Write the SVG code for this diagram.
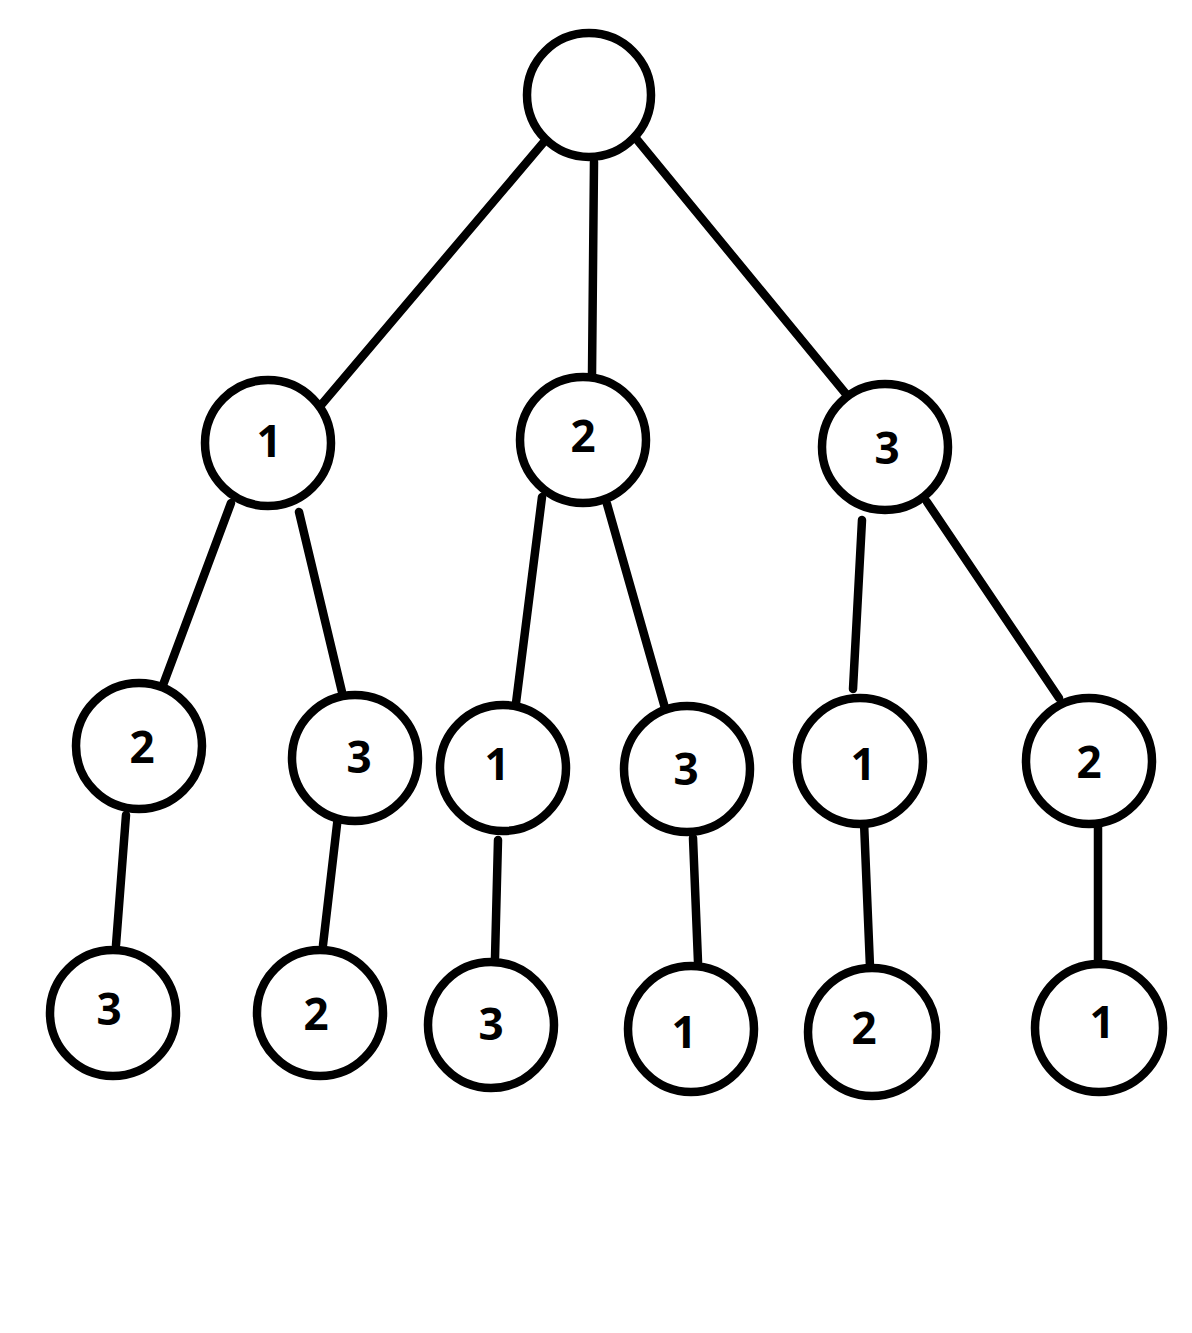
<svg xmlns="http://www.w3.org/2000/svg" width="1192" height="1333" viewBox="0 0 1192 1333">
<style>
.n{fill:#fff;stroke:#000;stroke-width:8.5}
.e{stroke:#000;stroke-width:8.5;stroke-linecap:round;fill:none}
.t{font-family:"Open Sans","Noto Sans",sans-serif;font-weight:bold;font-size:44px;text-anchor:middle;dominant-baseline:central;fill:#000}
</style>
<rect width="1192" height="1333" fill="#fff"/>
<g id="connectors">
<line class="e" x1="543" y1="143" x2="322" y2="404"/>
<line class="e" x1="594" y1="162" x2="592" y2="375"/>
<line class="e" x1="634" y1="136" x2="846" y2="394"/>
<line class="e" x1="231" y1="503" x2="163" y2="685"/>
<line class="e" x1="299" y1="512" x2="342" y2="692"/>
<line class="e" x1="542" y1="497" x2="516" y2="703"/>
<line class="e" x1="607" y1="504" x2="665" y2="708"/>
<line class="e" x1="862" y1="520" x2="853" y2="689"/>
<line class="e" x1="927" y1="502" x2="1059" y2="698"/>
<line class="e" x1="126" y1="815" x2="116" y2="945"/>
<line class="e" x1="338" y1="816" x2="323" y2="945"/>
<line class="e" x1="498" y1="840" x2="495" y2="958"/>
<line class="e" x1="693" y1="838" x2="698" y2="962"/>
<line class="e" x1="864" y1="822" x2="870" y2="967"/>
<line class="e" x1="1098" y1="826" x2="1098" y2="962"/>
</g>
<g id="root"><circle class="n" cx="589" cy="95" r="62"/></g>
<g id="n1"><circle class="n" cx="268" cy="443" r="63"/><text class="t" x="269" y="440">1</text></g>
<g id="n2"><circle class="n" cx="583" cy="440" r="63"/><text class="t" x="583" y="435">2</text></g>
<g id="n3"><circle class="n" cx="885" cy="447" r="63"/><text class="t" x="887" y="447">3</text></g>
<g id="n12"><circle class="n" cx="139" cy="746" r="63"/><text class="t" x="142" y="746">2</text></g>
<g id="n13"><circle class="n" cx="355" cy="758" r="63"/><text class="t" x="359" y="756">3</text></g>
<g id="n21"><circle class="n" cx="503" cy="768" r="63"/><text class="t" x="497" y="763">1</text></g>
<g id="n23"><circle class="n" cx="687" cy="769" r="63"/><text class="t" x="686" y="768">3</text></g>
<g id="n31"><circle class="n" cx="860" cy="761" r="63"/><text class="t" x="863" y="763">1</text></g>
<g id="n32"><circle class="n" cx="1089" cy="761" r="63"/><text class="t" x="1089" y="761">2</text></g>
<g id="n123"><circle class="n" cx="113" cy="1013" r="63"/><text class="t" x="109" y="1008">3</text></g>
<g id="n132"><circle class="n" cx="320" cy="1013" r="63"/><text class="t" x="316" y="1013">2</text></g>
<g id="n213"><circle class="n" cx="491" cy="1025" r="63"/><text class="t" x="491" y="1023">3</text></g>
<g id="n231"><circle class="n" cx="691" cy="1029" r="63"/><text class="t" x="684" y="1031">1</text></g>
<g id="n312"><circle class="n" cx="872" cy="1032" r="64"/><text class="t" x="864" y="1027">2</text></g>
<g id="n321"><circle class="n" cx="1099" cy="1028" r="64"/><text class="t" x="1102" y="1021">1</text></g>
</svg>
